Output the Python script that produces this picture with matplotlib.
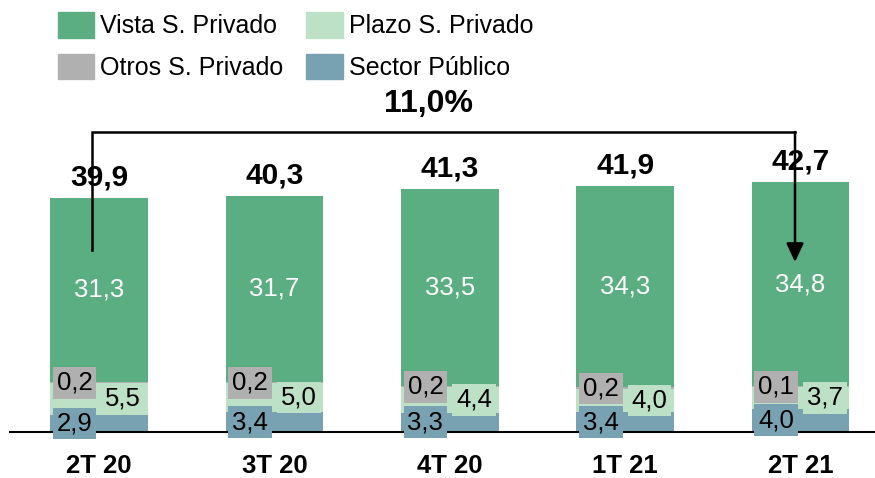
import matplotlib
matplotlib.use("Agg")
from matplotlib import pyplot as plt
from matplotlib.patches import Patch
import numpy as np

plt.rcParams['font.family'] = ['Liberation Sans', 'DejaVu Sans']

# datos (miles de millones)
periodos = ['2T 20', '3T 20', '4T 20', '1T 21', '2T 21']
publico = [2.9, 3.4, 3.3, 3.4, 4.0]
plazo = [5.5, 5.0, 4.4, 4.0, 3.7]
otros = [0.2, 0.2, 0.2, 0.2, 0.1]
vista = [31.3, 31.7, 33.5, 34.3, 34.8]
totales = [39.9, 40.3, 41.3, 41.9, 42.7]
crecimiento = '11,0%'

c_vista = '#5bae82'
c_plazo = '#bde1c6'
c_otros = '#b0b0b0'
c_publico = '#78a2b2'

def fmt(v):
  return f"{v:.1f}".replace('.', ',')

fig = plt.figure(figsize=(8.75, 4.78), dpi=100)
# linea cero en y=432 px, 5.86 px por unidad
ax = fig.add_axes([10/875, 46/478, 865/875, 432/478])
ax.set_xlim(-0.507, 4.424)
ax.set_ylim(0, 432/5.86)

x = np.arange(len(periodos))
w = 0.556
publico = np.array(publico)
plazo = np.array(plazo)
otros = np.array(otros)
vista = np.array(vista)

ax.bar(x, publico, w, color=c_publico, zorder=2)
ax.bar(x, plazo, w, bottom=publico, color=c_plazo, zorder=2)
ax.bar(x, otros, w, bottom=publico+plazo, color=c_otros, zorder=2)
ax.bar(x, vista, w, bottom=publico+plazo+otros, color=c_vista, zorder=2)

fs = 18.5
for i in range(len(x)):
  # sector publico
  ax.text(x[i]-w/4, publico[i]/2, fmt(publico[i]), ha='center', va='center', fontsize=fs,
          bbox=dict(boxstyle='square,pad=0.15', fc=c_publico, lw=0), zorder=4)
  # plazo
  ax.text(x[i]+w/4, publico[i]+plazo[i]/2, fmt(plazo[i]), ha='center', va='center', fontsize=fs,
          bbox=dict(boxstyle='square,pad=0.15', fc=c_plazo, lw=0), zorder=4)
  # otros
  ax.text(x[i]-w/4, publico[i]+plazo[i], fmt(otros[i]), ha='center', va='center', fontsize=fs,
          bbox=dict(boxstyle='square,pad=0.15', fc=c_otros, lw=0), zorder=4)
  # vista
  base = publico[i]+plazo[i]+otros[i]
  ax.text(x[i], base+vista[i]/2, fmt(vista[i]), ha='center', va='center', fontsize=fs,
          color='white', zorder=4)
  # total
  top = base+vista[i]
  ax.annotate(fmt(totales[i]), (x[i], top), xytext=(0, 9), textcoords='offset points',
              ha='center', va='baseline', fontsize=21.5, fontweight='bold', zorder=4)

# flecha de crecimiento
xl = x[0] - 0.042
xr = x[-1] - 0.032
y_top = (432-132)/5.86
ax.plot([xl, xl, xr], [(432-250)/5.86, y_top, y_top], color='black', lw=1.8,
        solid_joinstyle='miter', zorder=6, clip_on=False)
ax.annotate('', xy=(xr, (432-262)/5.86), xytext=(xr, y_top),
            arrowprops=dict(arrowstyle='-|>,head_length=0.75,head_width=0.35', mutation_scale=15,
                            color='black', lw=1.8, shrinkA=0, shrinkB=0), zorder=6)
ax.text(1.88, (432-104)/5.86, crecimiento, ha='center', va='center', fontsize=23,
        fontweight='bold')

for s in ['top', 'right', 'left']:
  ax.spines[s].set_visible(False)
ax.spines['bottom'].set_linewidth(1.5)
ax.spines['bottom'].set_zorder(3)
ax.set_yticks([])
ax.set_xticks(x)
ax.set_xticklabels(periodos, fontsize=18.5, fontweight='bold')
ax.tick_params(axis='x', length=0, pad=16)

handles = [Patch(color=c_vista, label='Vista S. Privado'),
           Patch(color=c_otros, label='Otros S. Privado'),
           Patch(color=c_plazo, label='Plazo S. Privado'),
           Patch(color=c_publico, label='Sector Público')]
fig.legend(handles=handles, ncol=2, loc='upper left', bbox_to_anchor=(58/875, 1-12/478),
           frameon=False, fontsize=18, handlelength=1.45, handleheight=1.2,
           handletextpad=0.25, columnspacing=0.9, labelspacing=0.62, borderpad=0,
           borderaxespad=0)

fig.savefig('out.png', dpi=100)
plt.close()
